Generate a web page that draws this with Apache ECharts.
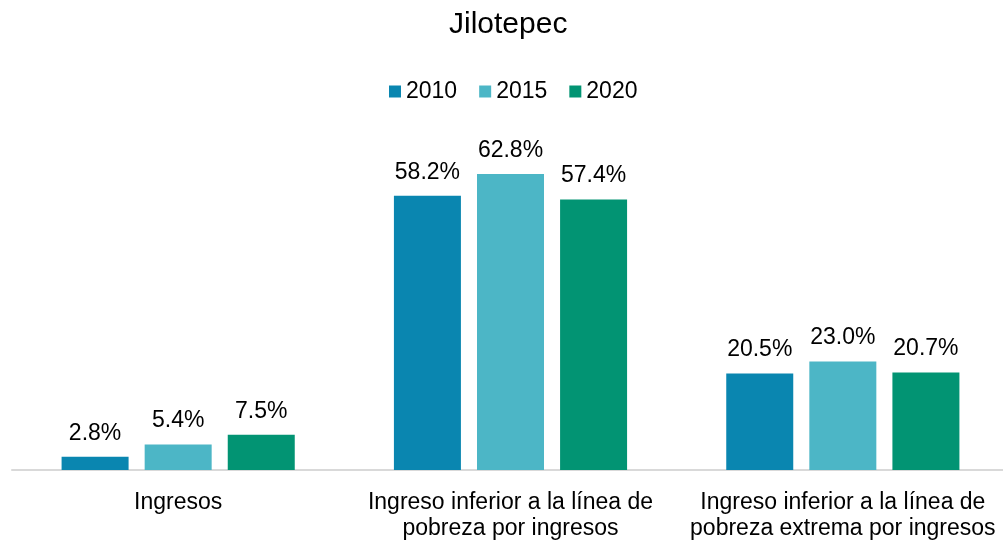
<!DOCTYPE html>
<html>
<head>
<meta charset="utf-8">
<script src="https://cdn.jsdelivr.net/npm/echarts@6/dist/echarts.min.js"></script>
<style>
  html, body { margin: 0; padding: 0; background: #ffffff; overflow: hidden; }
  /* canvas is a little wider than the page so the axis can run to the right edge */
  #chart { width: 1012px; height: 544px; }
</style>
</head>
<body>
<div id="chart"></div>
<script>
// Categories and shares (%) per census year
const categories = [
  'Ingresos',
  'Ingreso inferior a la línea de\npobreza por ingresos',
  'Ingreso inferior a la línea de\npobreza extrema por ingresos'
];
const years = ['2010', '2015', '2020'];
const values2010 = [2.8, 58.2, 20.5];
const values2015 = [5.4, 62.8, 23.0];
const values2020 = [7.5, 57.4, 20.7];
const colors = ['#0a86b0', '#4cb6c6', '#029473'];

const FONT = '"Liberation Sans", Arial, sans-serif';
const chart = echarts.init(document.getElementById('chart'), null, { renderer: 'canvas' });

function barSeries(name, data, color) {
  return {
    name: name,
    type: 'bar',
    data: data,
    barWidth: 67,
    barGap: '24%',
    itemStyle: { color: color },
    label: {
      show: true,
      position: 'top',
      distance: 12,
      color: '#000000',
      fontFamily: FONT,
      fontSize: 23,
      formatter: p => p.value.toFixed(1) + '%'
    }
  };
}

chart.setOption({
  animation: false,
  backgroundColor: '#ffffff',
  textStyle: { fontFamily: FONT },
  title: {
    text: 'Jilotepec',
    left: 444,
    top: 5,
    textStyle: { fontFamily: FONT, fontSize: 30, fontWeight: 'normal', color: '#000000' }
  },
  legend: {
    data: years,
    top: 75,
    left: 384,
    itemWidth: 12,
    itemHeight: 12,
    itemGap: 22,
    icon: 'rect',
    textStyle: { fontFamily: FONT, fontSize: 23, color: '#000000' }
  },
  grid: { left: 12, width: 997, top: 93, bottom: 74, containLabel: false },
  xAxis: {
    type: 'category',
    data: categories,
    axisLine: { show: true, lineStyle: { color: '#d9d9d9', width: 2 } },
    axisTick: { show: false },
    axisLabel: {
      interval: 0,
      margin: 20,
      color: '#000000',
      fontFamily: FONT,
      fontSize: 23,
      lineHeight: 26,
      align: 'center'
    }
  },
  yAxis: {
    type: 'value',
    min: 0,
    max: 80,
    show: false,
    splitLine: { show: false }
  },
  series: [
    barSeries(years[0], values2010, colors[0]),
    barSeries(years[1], values2015, colors[1]),
    barSeries(years[2], values2020, colors[2])
  ]
});
</script>
</body>
</html>
